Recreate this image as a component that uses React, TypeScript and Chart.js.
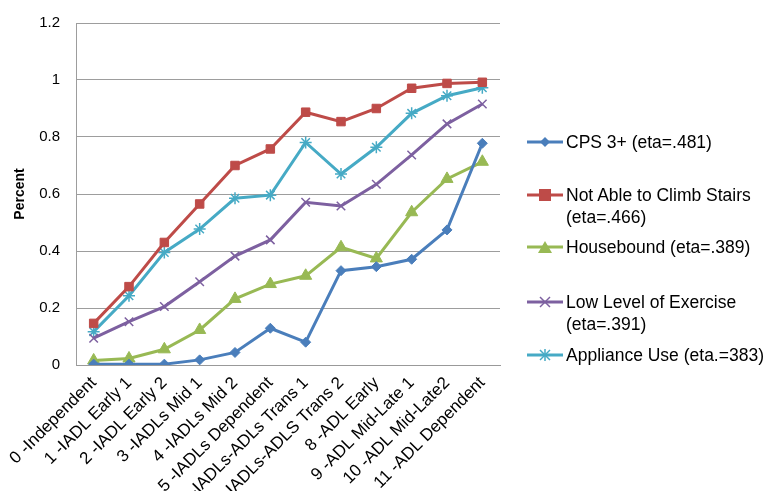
import React, { useEffect, useRef } from "react";
import { Chart, registerables } from "chart.js";

Chart.register(...registerables);

const categories = [
  "0 -Independent",
  "1 -IADL Early 1",
  "2 -IADL Early 2",
  "3 -IADLs Mid 1",
  "4 -IADLs Mid 2",
  "5 -IADLs Dependent",
  "6 -IADLs-ADLs Trans 1",
  "7 -IADLs-ADLS Trans 2",
  "8 -ADL Early",
  "9 -ADL Mid-Late 1",
  "10 -ADL Mid-Late2",
  "11 -ADL Dependent",
];

const cps = [0.003, 0.003, 0.003, 0.018, 0.044, 0.129, 0.08, 0.331, 0.345, 0.371, 0.474, 0.778];
const stairs = [0.146, 0.275, 0.43, 0.565, 0.7, 0.758, 0.887, 0.854, 0.9, 0.971, 0.988, 0.992];
const housebound = [0.016, 0.023, 0.055, 0.123, 0.232, 0.284, 0.313, 0.413, 0.374, 0.536, 0.653, 0.713];
const exercise = [0.094, 0.152, 0.205, 0.292, 0.382, 0.439, 0.571, 0.558, 0.634, 0.737, 0.846, 0.916];
const appliance = [0.117, 0.243, 0.395, 0.477, 0.585, 0.596, 0.781, 0.67, 0.764, 0.883, 0.945, 0.973];

const yTicks = [0, 0.2, 0.4, 0.6, 0.8, 1, 1.2];

const seriesNames = [
  ["CPS 3+ (eta=.481)"],
  ["Not Able to Climb Stairs", "(eta=.466)"],
  ["Housebound (eta=.389)"],
  ["Low Level of Exercise", "(eta=.391)"],
  ["Appliance Use (eta.=383)"],
];

const colors = ["#4A7EBB", "#BE4B48", "#98B954", "#7D60A0", "#46AAC5"];
const pointStyles = ["rectRot", "rect", "triangle", "crossRot", "star"] as const;
const pointRadii = [5, 6, 7, 6, 6];
const seriesData = [cps, stairs, housebound, exercise, appliance];

const FONT = "'Liberation Sans', Arial, sans-serif";

function Marker({ idx }: { idx: number }) {
  const c = colors[idx];
  let m: React.ReactNode = null;
  if (idx === 0) m = <polygon points="18,1 23,6 18,11 13,6" fill={c} />;
  if (idx === 1) m = <rect x={12} y={0} width={12} height={12} fill={c} />;
  if (idx === 2) m = <polygon points="18,0 25,12 11,12" fill={c} />;
  if (idx === 3)
    m = (
      <g stroke={c} strokeWidth={1.5}>
        <line x1={13} y1={1} x2={23} y2={11} />
        <line x1={23} y1={1} x2={13} y2={11} />
      </g>
    );
  if (idx === 4)
    m = (
      <g stroke={c} strokeWidth={1.5}>
        <line x1={13} y1={1} x2={23} y2={11} />
        <line x1={23} y1={1} x2={13} y2={11} />
        <line x1={18} y1={0} x2={18} y2={12} />
      </g>
    );
  return (
    <svg width={36} height={12} style={{ display: "block" }}>
      <line x1={0} y1={6} x2={36} y2={6} stroke={c} strokeWidth={3} />
      {m}
    </svg>
  );
}

const legendTops = [131, 184, 236, 291, 344];

export default function App() {
  const ref = useRef<HTMLCanvasElement | null>(null);

  useEffect(() => {
    if (!ref.current) return;
    const chart = new Chart(ref.current, {
      type: "line",
      data: {
        labels: categories,
        datasets: seriesData.map((d, i) => ({
          label: seriesNames[i].join(" "),
          data: d,
          borderColor: colors[i],
          backgroundColor: colors[i],
          borderWidth: 3,
          pointStyle: pointStyles[i],
          pointRadius: pointRadii[i],
          pointBorderWidth: i >= 3 ? 1.5 : 1,
          pointBorderColor: colors[i],
          pointBackgroundColor: colors[i],
          tension: 0,
          fill: false,
        })),
      },
      options: {
        animation: false,
        responsive: false,
        maintainAspectRatio: false,
        layout: { padding: { top: 23, right: 267, left: 6, bottom: 0 } },
        plugins: {
          legend: { display: false },
          tooltip: { enabled: false },
        },
        scales: {
          x: {
            type: "category",
            offset: true,
            grid: { display: false, drawTicks: false },
            border: { display: true, color: "#999999", width: 1 },
            ticks: {
              minRotation: 45,
              maxRotation: 45,
              autoSkip: false,
              color: "#000",
              font: { family: FONT, size: 17 },
              padding: 8,
            },
            afterFit: (scale: any) => {
              scale.height = 126;
              scale.paddingLeft = 0;
              scale.paddingRight = 0;
            },
          },
          y: {
            min: 0,
            max: 1.2,
            afterBuildTicks: (scale: any) => {
              scale.ticks = yTicks.map((v) => ({ value: v }));
            },
            grid: { color: "#9d9d9d", lineWidth: 1, drawTicks: false },
            border: { display: true, color: "#9d9d9d", width: 1 },
            ticks: {
              color: "#000",
              font: { family: FONT, size: 15 },
              padding: 16,
              callback: (v: any) => String(Number(v)),
            },
            title: {
              display: true,
              text: "Percent",
              color: "#000",
              font: { family: FONT, size: 14, weight: "bold" },
              padding: 6,
            },
            afterFit: (scale: any) => {
              scale.width = 70;
              scale.paddingTop = 0;
              scale.paddingBottom = 0;
            },
          },
        },
      },
    });
    return () => chart.destroy();
  }, []);

  return (
    <div style={{ position: "fixed", left: 0, top: 0, width: 767, height: 491, background: "#fff", overflow: "hidden" }}>
      <canvas ref={ref} width={767} height={491} style={{ display: "block" }} />
      {seriesNames.map((lines, i) => (
        <div
          key={i}
          style={{
            position: "absolute",
            left: 527,
            top: legendTops[i],
            display: "flex",
            alignItems: "flex-start",
            fontFamily: FONT,
            fontSize: 17.5,
            lineHeight: "22px",
            color: "#000",
            whiteSpace: "nowrap",
          }}
        >
          <div style={{ marginTop: 5 }}>
            <Marker idx={i} />
          </div>
          <div style={{ marginLeft: 3 }}>
            {lines.map((l, k) => (
              <div key={k}>{l}</div>
            ))}
          </div>
        </div>
      ))}
    </div>
  );
}
